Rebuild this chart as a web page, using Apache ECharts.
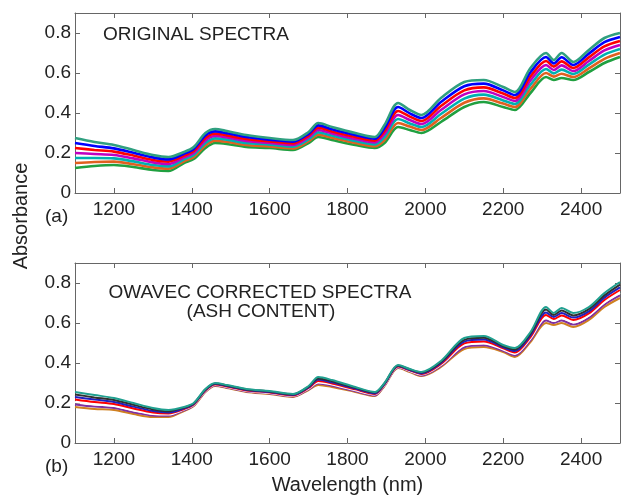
<!DOCTYPE html>
<html>
<head>
<meta charset="utf-8">
<script src="https://cdn.jsdelivr.net/npm/echarts@6/dist/echarts.min.js"></script>
<style>
  html, body { margin: 0; padding: 0; background: #fff; }
  #main { width: 621px; height: 498px; }
</style>
</head>
<body>
<div id="main"></div>
<script>
const wavelengths = [1100,1150,1200,1250,1300,1340,1380,1405,1435,1460,1490,1540,1600,1660,1700,1725,1760,1820,1870,1895,1930,1960,1990,2040,2100,2150,2200,2230,2270,2310,2330,2350,2380,2420,2460,2500];

// (a) original spectra, from lowest to highest in the band
const orig1 = [.125,.135,.14,.13,.115,.11,.15,.17,.225,.25,.245,.23,.225,.215,.25,.28,.265,.24,.225,.25,.33,.315,.30,.355,.43,.455,.43,.415,.50,.58,.565,.575,.565,.605,.65,.68];
const orig2 = [.15,.155,.157,.144,.128,.122,.159,.18,.238,.262,.256,.24,.233,.223,.259,.292,.276,.25,.234,.265,.35,.332,.315,.375,.451,.473,.447,.43,.521,.60,.582,.596,.58,.623,.671,.70];
const orig3 = [.175,.175,.173,.158,.14,.133,.168,.19,.25,.273,.267,.25,.242,.232,.268,.303,.287,.26,.243,.28,.37,.348,.33,.395,.472,.492,.463,.445,.542,.62,.598,.617,.595,.642,.692,.72];
const orig4 = [.20,.195,.19,.173,.153,.145,.178,.20,.263,.285,.278,.26,.25,.24,.278,.315,.298,.27,.253,.295,.39,.365,.345,.415,.493,.51,.48,.46,.563,.64,.615,.638,.61,.66,.713,.74];
const orig5 = [.225,.215,.207,.187,.165,.157,.187,.21,.275,.297,.288,.27,.258,.248,.287,.327,.308,.28,.262,.31,.41,.382,.36,.435,.513,.528,.497,.475,.583,.66,.632,.658,.625,.678,.733,.76];
const orig6 = [.25,.235,.223,.201,.178,.168,.196,.22,.288,.308,.299,.28,.267,.257,.296,.338,.319,.29,.271,.325,.43,.398,.375,.455,.534,.547,.513,.49,.604,.68,.648,.679,.64,.697,.754,.78];
const orig7 = [.275,.255,.24,.215,.19,.18,.205,.23,.30,.32,.31,.29,.275,.265,.305,.35,.33,.30,.28,.34,.45,.415,.39,.475,.555,.565,.53,.505,.625,.70,.665,.70,.655,.715,.775,.80];

// (b) OWAVEC corrected spectra
const corr1 = [.18,.17,.165,.145,.13,.13,.16,.185,.255,.285,.275,.255,.245,.23,.265,.29,.28,.255,.235,.285,.375,.355,.335,.38,.47,.48,.455,.43,.505,.60,.59,.60,.58,.615,.68,.725];
const corr2 = [.193,.182,.175,.154,.138,.136,.163,.188,.258,.288,.278,.258,.248,.233,.268,.297,.286,.259,.238,.288,.378,.358,.338,.385,.479,.489,.461,.438,.513,.613,.60,.613,.592,.626,.692,.738];
const corr3 = [.205,.193,.185,.163,.145,.142,.167,.19,.26,.29,.28,.26,.25,.235,.272,.303,.292,.263,.242,.29,.38,.36,.342,.39,.488,.498,.467,.445,.522,.627,.61,.625,.603,.637,.703,.752];
const corr4 = [.218,.205,.195,.173,.153,.148,.17,.193,.263,.293,.283,.263,.253,.238,.275,.31,.298,.268,.245,.293,.383,.363,.345,.395,.498,.508,.473,.453,.53,.64,.62,.638,.615,.648,.715,.765];
const corr5 = [.23,.217,.205,.182,.16,.153,.173,.195,.265,.295,.285,.265,.255,.24,.278,.317,.303,.272,.248,.295,.385,.365,.348,.40,.507,.517,.478,.46,.538,.653,.63,.65,.627,.658,.727,.778];
const corr6 = [.243,.228,.215,.191,.168,.159,.177,.198,.268,.298,.288,.268,.258,.243,.282,.323,.309,.276,.252,.298,.388,.368,.352,.405,.516,.526,.484,.468,.547,.667,.64,.663,.638,.669,.738,.792];
const corr7 = [.255,.24,.225,.20,.175,.165,.18,.20,.27,.30,.29,.27,.26,.245,.285,.33,.315,.28,.255,.30,.39,.37,.355,.41,.525,.535,.49,.475,.555,.68,.65,.675,.65,.68,.75,.805];

const origSpectra = [orig1, orig2, orig3, orig4, orig5, orig6, orig7];
const corrSpectra = [corr1, corr2, corr3, corr4, corr5, corr6, corr7];
const origColors = ['#20a040', '#e06020', '#00b0b0', '#c000c0', '#ff0000', '#0000ff', '#30a080'];
const corrColors = ['#d08020', '#8030a0', '#ffffff', '#ff0000', '#2020c0', '#303030', '#20a090'];

const FONT = 'Liberation Sans, Arial, sans-serif';

function Make_series(spectra, colors, axisIndex, lw) {
    // one line per spectrum, all on the same grid
    let myseries = [];
    for (let i = 0; i < spectra.length; i++) {
        let pts = [];
        for (let j = 0; j < wavelengths.length; j++) {
            pts.push([wavelengths[j], spectra[i][j]]);
        }
        myseries.push({
            type: 'line',
            xAxisIndex: axisIndex,
            yAxisIndex: axisIndex,
            data: pts,
            showSymbol: false,
            smooth: 0.3,
            lineStyle: { color: colors[i], width: lw }
        });
    }
    return myseries;
}

function Make_xAxis(gridIndex, pos, showLabel) {
    return {
        type: 'value',
        gridIndex: gridIndex,
        position: pos,
        min: 1100,
        max: 2500,
        splitNumber: 7,
        axisLine: { show: true, onZero: false, lineStyle: { color: '#666', width: 1 } },
        axisTick: { show: true, inside: true, length: 5, lineStyle: { color: '#666' } },
        axisLabel: {
            show: showLabel, margin: 7, color: '#222', fontSize: 19, fontFamily: FONT,
            showMinLabel: false, showMaxLabel: false,
            formatter: function (v) { return String(v); }
        },
        splitLine: { show: false }
    };
}

function Make_yAxis(gridIndex, pos, showLabel) {
    return {
        type: 'value',
        gridIndex: gridIndex,
        position: pos,
        min: 0,
        max: 0.9,
        interval: 0.2,
        axisLine: { show: true, lineStyle: { color: '#666', width: 1 } },
        axisTick: { show: true, inside: true, length: 5, lineStyle: { color: '#666' } },
        axisLabel: {
            show: showLabel, margin: 4, color: '#222', fontSize: 19, fontFamily: FONT,
            showMaxLabel: false
        },
        splitLine: { show: false }
    };
}

let chart = echarts.init(document.getElementById('main'));
let xAxes = [Make_xAxis(0, 'bottom', true), Make_xAxis(0, 'top', false),
             Make_xAxis(1, 'bottom', true), Make_xAxis(1, 'top', false)];
xAxes[2].name = 'Wavelength (nm)';
xAxes[2].nameLocation = 'middle';
xAxes[2].nameGap = 32;
xAxes[2].nameTextStyle = { color: '#222', fontSize: 20, fontFamily: FONT };

let option = {
    animation: false,
    backgroundColor: '#fff',
    grid: [
        { left: 75, top: 13, width: 545, height: 180 },
        { left: 75, top: 263, width: 545, height: 180 }
    ],
    xAxis: xAxes,
    yAxis: [Make_yAxis(0, 'left', true), Make_yAxis(0, 'right', false),
            Make_yAxis(1, 'left', true), Make_yAxis(1, 'right', false)],
    graphic: [
        { type: 'text', left: 103, top: 25, style: { text: 'ORIGINAL SPECTRA', fill: '#222', fontSize: 19, fontFamily: FONT } },
        { type: 'text', x: 260, y: 293, style: { text: 'OWAVEC CORRECTED SPECTRA', fill: '#222', fontSize: 19, fontFamily: FONT, align: 'center', verticalAlign: 'middle' } },
        { type: 'text', x: 261, y: 312, style: { text: '(ASH CONTENT)', fill: '#222', fontSize: 19, fontFamily: FONT, align: 'center', verticalAlign: 'middle' } },
        { type: 'text', x: 45, y: 217, style: { text: '(a)', fill: '#222', fontSize: 19, fontFamily: FONT, verticalAlign: 'middle' } },
        { type: 'text', x: 45, y: 467, style: { text: '(b)', fill: '#222', fontSize: 19, fontFamily: FONT, verticalAlign: 'middle' } },
        { type: 'text', x: 21, y: 216, rotation: Math.PI / 2, style: { text: 'Absorbance', fill: '#222', fontSize: 20, fontFamily: FONT, align: 'center', verticalAlign: 'middle' } }
    ],
    series: Make_series(origSpectra, origColors, 0, 2.6).concat(Make_series(corrSpectra, corrColors, 2, 2))
};
chart.setOption(option);
</script>
</body>
</html>
